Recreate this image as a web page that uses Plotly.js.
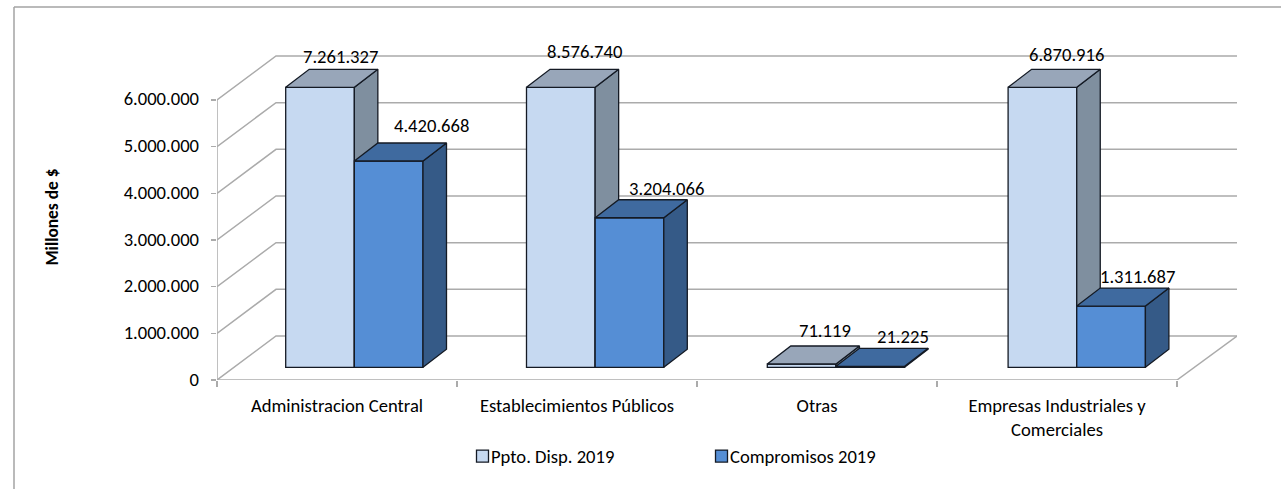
<!DOCTYPE html>
<html><head><meta charset="utf-8">
<script src="https://cdn.plot.ly/plotly-3.0.1.min.js"></script>
<style>html,body{margin:0;padding:0;background:#fff}#c{width:1281px;height:489px}</style>
</head><body><div id="c"></div>
<script>
const categories = ["Administracion Central","Establecimientos Públicos","Otras","Empresas Industriales y<br>Comerciales"];
const seriesNames = ["Ppto. Disp. 2019","Compromisos 2019"];
const presupuesto = [7261327, 8576740, 71119, 6870916];
const compromisos = [4420668, 3204066, 21225, 1311687];
const valueLabels = [["7.261.327","8.576.740","71.119","6.870.916"],["4.420.668","3.204.066","21.225","1.311.687"]];
const yTicks = [0,1000000,2000000,3000000,4000000,5000000,6000000];
const yTickText = ["0","1.000.000","2.000.000","3.000.000","4.000.000","5.000.000","6.000.000"];

// geometry
const FONT = "Carlito, Lato, sans-serif";
const FS = 18.6;
const W=1281,H=489,L=217,R=1237,T=54,B=380;
const pxPerCat=240, pxPerM=46.67;
const ux=p=>p/pxPerCat, uy=p=>p*1e6/pxPerM;
const xMax=ux(R-L), yMax=uy(B-T), axisMax=6000000;
const wallDX=ux(59), wallDY=uy(44);
const barOX=ux(16.7), barOY=uy(12.7), barDX=ux(23.5), barDY=uy(18);
const gap=ux(52), barW=ux(68.65), barPitch=ux(240.8);
const frontC=["#C6D9F1","#558ED5"], topC=["#98A6B9","#3F6A9F"], sideC=["#7F8F9F","#355A87"];
const edge="#141a24", gridC="#ababab";
const labelDX=[[-3,0,0,1],[19,14,9,3]], labelDY=[[-13,-18,-15,-15],[-17,-11,-12,-12]];

const traces=[];
// walls and floor
let gx=[],gy=[];
yTicks.forEach(v=>{gx.push(0,wallDX,xMax,null);gy.push(v,v+wallDY,v+wallDY,null);});
gx.push(categories.length,xMax,null);gy.push(0,wallDY,null);
traces.push({type:"scatter",mode:"lines",x:gx,y:gy,line:{color:gridC,width:1.5},showlegend:false,hoverinfo:"skip",zorder:0,cliponaxis:false});
traces.push({type:"scatter",mode:"lines",x:[0,0,null,0,categories.length],y:[0,axisMax,null,0,0],line:{color:gridC,width:1.5},showlegend:false,hoverinfo:"skip",zorder:0,cliponaxis:false});

const annotations=[];
[presupuesto,compromisos].forEach((vals,s)=>{
  const z=s+1;
  const h=vals.map(v=>Math.min(v,axisMax));
  const left=i=>i*barPitch+barOX+gap+s*barW;
  traces.push({type:"bar",name:seriesNames[s],x:h.map((_,i)=>left(i)+barW/2),y:h,base:h.map(()=>barOY),width:barW,
    marker:{color:frontC[s],line:{color:edge,width:1.3}},hoverinfo:"skip",zorder:z});
  let tx=[],ty=[],sx=[],sy=[];
  h.forEach((v,i)=>{
    const x0=left(i),x1=x0+barW,y0=barOY,y1=barOY+v;
    tx.push(x0,x1,x1+barDX,x0+barDX,x0,null);ty.push(y1,y1,y1+barDY,y1+barDY,y1,null);
    sx.push(x1,x1+barDX,x1+barDX,x1,x1,null);sy.push(y0,y0+barDY,y1+barDY,y1,y0,null);
    annotations.push({x:x0+barW/2+barDX,y:y1+barDY,xref:"x",yref:"y",text:valueLabels[s][i],showarrow:false,
      xanchor:"center",yanchor:"middle",xshift:labelDX[s][i],yshift:-labelDY[s][i],font:{family:FONT,size:FS,color:"#000"}});
  });
  traces.push({type:"scatter",mode:"lines",x:sx,y:sy,fill:"toself",fillcolor:sideC[s],line:{color:edge,width:1.3},showlegend:false,hoverinfo:"skip",zorder:z,cliponaxis:false});
  traces.push({type:"scatter",mode:"lines",x:tx,y:ty,fill:"toself",fillcolor:topC[s],line:{color:edge,width:1.3},showlegend:false,hoverinfo:"skip",zorder:z,cliponaxis:false});
});
// carries the value-axis labels
traces.push({type:"scatter",mode:"markers",x:[0],y:[0],yaxis:"y2",marker:{opacity:0},showlegend:false,hoverinfo:"skip"});

const layout={
  width:W,height:H,paper_bgcolor:"#fff",plot_bgcolor:"rgba(0,0,0,0)",
  margin:{l:L,r:W-R,t:T,b:H-B,pad:0},
  font:{family:FONT,size:FS,color:"#000"},
  barmode:"overlay",
  xaxis:{range:[0,xMax],tickmode:"array",tickvals:categories.map((_,i)=>i+0.5),ticktext:categories,
    showgrid:false,zeroline:false,showline:false,ticks:"",ticklabelstandoff:12,tickangle:0,
    tickfont:{family:FONT,size:FS,color:"#000"},
    minor:{tickmode:"array",tickvals:categories.map((_,i)=>i).concat(categories.length),ticks:"outside",ticklen:6,tickcolor:gridC,tickwidth:1.3,showgrid:false}},
  yaxis:{range:[0,yMax],tickmode:"array",tickvals:yTicks,showticklabels:false,ticks:"outside",ticklen:5,tickcolor:gridC,tickwidth:1.3,
    showgrid:false,zeroline:false,showline:false,
    title:{text:"<b>Millones de $</b>",font:{family:FONT,size:17.4,color:"#000"},standoff:147}},
  yaxis2:{overlaying:"y",side:"left",anchor:"x",range:[0,yMax],tickmode:"array",tickvals:yTicks,ticktext:yTickText,
    ticks:"",showgrid:false,zeroline:false,showline:false,ticklabelstandoff:17,ticklabelshift:-1,tickfont:{family:FONT,size:FS,color:"#000"}},
  legend:{orientation:"h",x:(451-L)/(R-L),xanchor:"left",y:(B-437.5)/(B-T),yanchor:"top",entrywidth:194,entrywidthmode:"pixels",
    font:{family:FONT,size:FS,color:"#000"},bgcolor:"rgba(0,0,0,0)",traceorder:"normal",itemclick:false,itemdoubleclick:false},
  annotations:annotations,
  shapes:[
    {type:"line",xref:"paper",yref:"paper",x0:(14-L)/(R-L),x1:(W-L)/(R-L),y0:(B-7)/(B-T),y1:(B-7)/(B-T),line:{color:"#a3a3a3",width:1.5}},
    {type:"line",xref:"paper",yref:"paper",x0:(14-L)/(R-L),x1:(14-L)/(R-L),y0:(B-7)/(B-T),y1:(B-H)/(B-T),line:{color:"#a3a3a3",width:1.5}}
  ]
};
Plotly.newPlot("c",traces,layout,{staticPlot:true,displayModeBar:false}).then(gd=>{
  // move each legend swatch next to its label
  gd.querySelectorAll(".legend .legendsymbols").forEach(n=>n.setAttribute("transform","translate(11.5,0)"));
});
</script></body></html>
